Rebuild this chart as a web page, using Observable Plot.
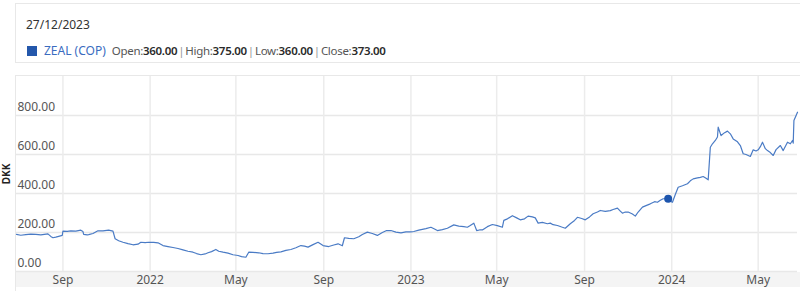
<!DOCTYPE html>
<html><head><meta charset="utf-8">
<script src="https://cdn.jsdelivr.net/npm/d3@7"></script>
<script src="https://cdn.jsdelivr.net/npm/@observablehq/plot@0.6"></script>
<style>
body{margin:0;background:#fff;font-family:"Noto Sans",sans-serif;width:800px;height:291px;overflow:hidden;position:relative}
#hdr{position:absolute;left:15px;top:3px;width:820px;height:60px;border:1px solid #e8e8e8;box-sizing:border-box}
#date{position:absolute;left:10px;top:12px;font-size:12px;color:#333}
#leg{position:absolute;left:11px;top:38px;font-size:12px;color:#555;white-space:nowrap;display:flex;align-items:center}
#leg .sq{display:inline-block;width:10px;height:10px;background:#2457ab;margin-right:7px}
#leg .nm{color:#3a6cbf;margin-right:6px}
#leg .vals{font-size:11.5px;letter-spacing:-0.3px}
#leg b{font-weight:600;color:#2a2a2a}
#leg .sep{color:#999;margin:0 1px}
#box{position:absolute;left:15px;top:75px;width:820px;height:240px;border:1px solid #e8e8e8;box-sizing:border-box}
#band{position:absolute;left:16px;top:272px;width:800px;height:15px;background:#f4f4f4}
#dkk{position:absolute;left:-9px;top:167px;width:30px;text-align:center;transform:rotate(-90deg);font-size:10px;font-weight:700;color:#222}
#chart{position:absolute;left:0;top:75px}
</style></head>
<body>
<div id="hdr">
  <div id="date">27/12/2023</div>
  <div id="leg"><span class="sq"></span><span class="nm">ZEAL (COP)</span><span class="vals">Open:<b>360.00</b><span class="sep">|</span>High:<b>375.00</b><span class="sep">|</span>Low:<b>360.00</b><span class="sep">|</span>Close:<b>373.00</b></span></div>
</div>
<div id="box"></div>
<div id="band"></div>
<div id="dkk">DKK</div>
<div id="chart"></div>
<script>
const dates = ["2021-06-28","2021-07-04","2021-07-11","2021-07-18","2021-07-25","2021-08-01","2021-08-11","2021-08-15","2021-08-18","2021-08-22","2021-08-26","2021-08-31",
"2021-09-01","2021-09-07","2021-09-12","2021-09-19","2021-09-26","2021-09-29","2021-09-30","2021-10-05","2021-10-07","2021-10-13","2021-10-20","2021-10-27",
"2021-11-04","2021-11-10","2021-11-13","2021-11-18","2021-11-24","2021-12-01","2021-12-08","2021-12-15","2021-12-19","2021-12-25","2021-12-30",
"2022-01-06","2022-01-12","2022-01-19","2022-01-26","2022-02-02","2022-02-09","2022-02-16","2022-02-23","2022-03-02","2022-03-07","2022-03-13","2022-03-19",
"2022-03-23","2022-03-28","2022-04-03","2022-04-07","2022-04-13","2022-04-20","2022-04-27","2022-05-04","2022-05-09","2022-05-15","2022-05-19","2022-05-25",
"2022-06-02","2022-06-08","2022-06-15","2022-06-22","2022-06-27","2022-07-03","2022-07-10","2022-07-17","2022-07-24","2022-07-31","2022-08-05","2022-08-10",
"2022-08-17","2022-08-24","2022-08-31","2022-09-08","2022-09-15","2022-09-21","2022-09-27","2022-09-30","2022-10-06","2022-10-13","2022-10-20","2022-10-25",
"2022-11-01","2022-11-08","2022-11-15","2022-11-22","2022-11-28","2022-12-04","2022-12-11","2022-12-18","2022-12-25","2023-01-01","2023-01-05","2023-01-12",
"2023-01-22","2023-01-29","2023-02-03","2023-02-07","2023-02-14","2023-02-21","2023-03-02","2023-03-09","2023-03-16","2023-03-21","2023-03-25","2023-03-30",
"2023-04-03","2023-04-07","2023-04-11","2023-04-18","2023-04-25","2023-05-02","2023-05-09","2023-05-11","2023-05-16","2023-05-23","2023-05-29","2023-06-03",
"2023-06-09","2023-06-14","2023-06-20","2023-06-24","2023-06-28","2023-07-04","2023-07-11","2023-07-15","2023-07-19","2023-07-25","2023-07-31","2023-08-05",
"2023-08-12","2023-08-18","2023-08-22","2023-08-28","2023-09-02","2023-09-08","2023-09-13","2023-09-19","2023-09-23","2023-09-30","2023-10-07","2023-10-11",
"2023-10-17","2023-10-21","2023-10-24","2023-10-28","2023-11-01","2023-11-07","2023-11-11","2023-11-15","2023-11-21","2023-11-26","2023-12-02","2023-12-08",
"2023-12-12","2023-12-16","2023-12-20","2023-12-27","2023-12-29","2024-01-02","2024-01-06","2024-01-10","2024-01-16","2024-01-23","2024-01-27","2024-01-31",
"2024-02-06","2024-02-10","2024-02-14","2024-02-18","2024-02-21","2024-02-24","2024-02-27","2024-03-02","2024-03-05","2024-03-06","2024-03-10","2024-03-15",
"2024-03-19","2024-03-23","2024-03-27","2024-04-02","2024-04-06","2024-04-10","2024-04-14","2024-04-20","2024-04-24","2024-04-28","2024-05-01","2024-05-04",
"2024-05-07","2024-05-11","2024-05-14","2024-05-18","2024-05-22","2024-05-26","2024-06-01","2024-06-05","2024-06-11","2024-06-15","2024-06-18","2024-06-19",
"2024-06-20","2024-06-25"];
const closes = [190,186,189,192,190,188,193,180,173,176,180,185,
207,206,208,207,212,205,190,188,189,195,209,208,
212,207,168,158,150,143,137,140,150,148,150,
149,147,133,128,123,118,111,104,99,92,86,90,
96,102,113,104,99,94,86,82,76,73,99,98,
96,92,91,94,98,101,108,113,122,133,130,125,
138,150,133,128,136,142,132,173,170,168,178,190,
202,195,185,200,210,210,202,198,203,203,205,212,
220,227,218,210,215,222,239,233,230,227,236,248,
210,213,213,230,241,235,227,262,270,286,275,265,
270,284,280,275,248,252,245,248,240,236,228,222,
245,262,278,272,265,280,296,305,313,308,312,318,
325,310,299,305,305,295,284,305,330,338,347,358,
355,365,373,373,362,355,395,432,440,450,465,475,
480,483,487,478,470,637,655,672,690,740,697,712,
720,706,680,665,646,604,600,590,624,618,624,640,
663,630,620,610,595,625,646,620,663,655,672,658,
774,817];
const markerDate = "2023-12-27";
const markerClose = 373;
const yTicks = [0,200,400,600,800];
const xTicks = ["2021-09-01","2022-01-01","2022-05-01","2022-09-01","2023-01-01","2023-05-01","2023-09-01","2024-01-01","2024-05-01"];
const xTickLabels = ["Sep","2022","May","Sep","2023","May","Sep","2024","May"];
const xDomain = ["2021-06-28","2024-06-25"];
const yDomain = [0,1000];

const parse = d3.utcParse("%Y-%m-%d");
const data = dates.map((d,i)=>({date: parse(d), close: closes[i]}));
const xt = xTicks.map(parse);
const labelMap = new Map(xt.map((d,i)=>[+d, xTickLabels[i]]));

const plot = Plot.plot({
  width: 800, height: 216,
  marginLeft: 16, marginRight: 3, marginTop: 1, marginBottom: 20,
  style: {fontFamily: "Noto Sans", fontSize: "12px", background: "transparent", overflow: "visible"},
  x: {type: "utc", domain: xDomain.map(parse)},
  y: {domain: yDomain},
  marks: [
    Plot.ruleY(yTicks, {stroke: "#e8e8e8", strokeWidth: 1.5}),
    Plot.ruleX(xt, {stroke: "#ececec", strokeWidth: 1.5}),
    Plot.text(yTicks, {y: d=>d, frameAnchor: "left", textAnchor: "start", dx: 1, dy: -8, text: d=>d.toFixed(2), fill: "#555", fontSize: 12}),
    Plot.axisX(xt, {tickSize: 0, tickPadding: 4, tickFormat: d=>labelMap.get(+d), fill: "#555", fontSize: 12, label: null}),
    Plot.axisY({ticks: [], label: null, tickSize: 0}),
    Plot.lineY(data, {x: "date", y: "close", stroke: "#4a7bc5", strokeWidth: 1.2}),
    Plot.dot([{date: parse(markerDate), close: markerClose}], {x: "date", y: "close", r: 4, fill: "#1d55ad", stroke: "none"})
  ]
});
document.getElementById("chart").appendChild(plot);
</script>
</body></html>
